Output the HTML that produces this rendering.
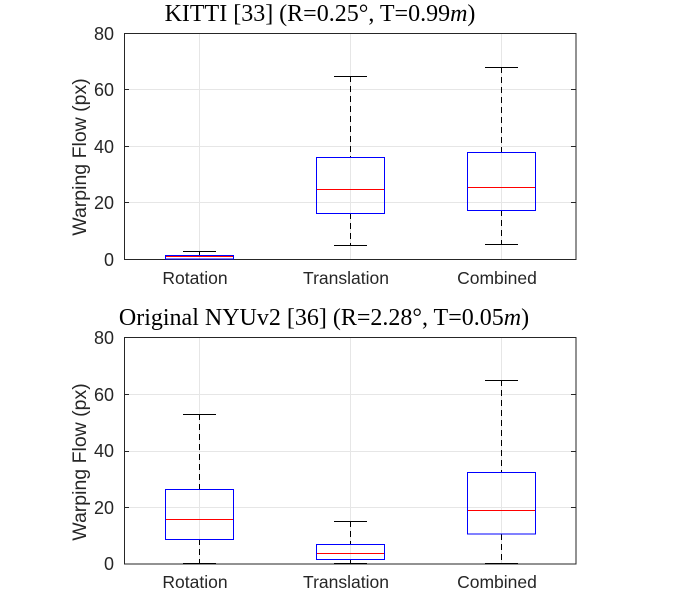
<!DOCTYPE html>
<html><head><meta charset="utf-8"><style>
html,body{margin:0;padding:0;background:#fff;}
svg text{font-family:"Liberation Sans",sans-serif;fill:#262626;}
.t{font-family:"Liberation Serif",serif;fill:#000;font-size:24px;}
</style></head><body>
<svg width="700" height="598" viewBox="0 0 700 598" xmlns="http://www.w3.org/2000/svg">
<rect width="700" height="598" fill="#fff"/>
<text class="t" x="320" y="21" text-anchor="middle">KITTI [33] (R=0.25°, T=0.99<tspan font-style="italic">m</tspan>)</text>
<g stroke="#e6e6e6" stroke-width="1">
<line x1="124" y1="89.5" x2="576" y2="89.5"/><line x1="124" y1="146.5" x2="576" y2="146.5"/><line x1="124" y1="202.5" x2="576" y2="202.5"/>
<line x1="199.5" y1="33" x2="199.5" y2="259"/><line x1="350.5" y1="33" x2="350.5" y2="259"/><line x1="501.5" y1="33" x2="501.5" y2="259"/>
</g>
<rect x="124.5" y="33.5" width="451.5" height="226" fill="none" stroke="#262626" stroke-width="1"/>
<g stroke="#262626"><line x1="124" y1="89.5" x2="129" y2="89.5"/><line x1="124" y1="146.5" x2="129" y2="146.5"/><line x1="124" y1="202.5" x2="129" y2="202.5"/>
<line x1="571" y1="89.5" x2="576" y2="89.5"/><line x1="571" y1="146.5" x2="576" y2="146.5"/><line x1="571" y1="202.5" x2="576" y2="202.5"/></g>
<g font-size="18" text-anchor="end"><text x="114" y="40">80</text><text x="114" y="96">60</text><text x="114" y="153">40</text><text x="114" y="209">20</text><text x="114" y="266">0</text></g>
<g font-size="17.5" text-anchor="middle"><text x="195" y="284">Rotation</text><text x="346" y="284">Translation</text><text x="497" y="284">Combined</text></g>
<text font-size="19.5" transform="translate(86,157) rotate(-90)" text-anchor="middle">Warping Flow (px)</text>
<line x1="199.5" y1="251" x2="199.5" y2="255" stroke="#000" stroke-dasharray="6,4"/>
<line x1="350.5" y1="76" x2="350.5" y2="157" stroke="#000" stroke-dasharray="6,4"/>
<line x1="350.5" y1="213" x2="350.5" y2="245" stroke="#000" stroke-dasharray="6,4"/>
<line x1="501.5" y1="67" x2="501.5" y2="152" stroke="#000" stroke-dasharray="6,4"/>
<line x1="501.5" y1="210" x2="501.5" y2="244" stroke="#000" stroke-dasharray="6,4"/>
<line x1="183" y1="251.5" x2="216" y2="251.5" stroke="#000"/>
<line x1="334" y1="76.5" x2="367" y2="76.5" stroke="#000"/>
<line x1="334" y1="245.5" x2="367" y2="245.5" stroke="#000"/>
<line x1="485" y1="67.5" x2="518" y2="67.5" stroke="#000"/>
<line x1="485" y1="244.5" x2="518" y2="244.5" stroke="#000"/>
<rect x="165.5" y="255.5" width="68" height="3.5" fill="none" stroke="#0000ff"/>
<rect x="316.5" y="157.5" width="68" height="56" fill="none" stroke="#0000ff"/>
<rect x="467.5" y="152.5" width="68" height="58" fill="none" stroke="#0000ff"/>
<line x1="166" y1="256.5" x2="233" y2="256.5" stroke="#ff0000"/>
<line x1="317" y1="189.5" x2="384" y2="189.5" stroke="#ff0000"/>
<line x1="468" y1="187.5" x2="535" y2="187.5" stroke="#ff0000"/>

<text class="t" x="324" y="325" text-anchor="middle">Original NYUv2 [36] (R=2.28°, T=0.05<tspan font-style="italic">m</tspan>)</text>
<g stroke="#e6e6e6" stroke-width="1">
<line x1="124" y1="394.5" x2="576" y2="394.5"/><line x1="124" y1="451.5" x2="576" y2="451.5"/><line x1="124" y1="507.5" x2="576" y2="507.5"/>
<line x1="199.5" y1="338" x2="199.5" y2="564"/><line x1="350.5" y1="338" x2="350.5" y2="564"/><line x1="501.5" y1="338" x2="501.5" y2="564"/>
</g>
<rect x="124.5" y="337.5" width="451.5" height="226.5" fill="none" stroke="#262626" stroke-width="1"/>
<g stroke="#262626"><line x1="124" y1="394.5" x2="129" y2="394.5"/><line x1="124" y1="451.5" x2="129" y2="451.5"/><line x1="124" y1="507.5" x2="129" y2="507.5"/>
<line x1="571" y1="394.5" x2="576" y2="394.5"/><line x1="571" y1="451.5" x2="576" y2="451.5"/><line x1="571" y1="507.5" x2="576" y2="507.5"/></g>
<g font-size="18" text-anchor="end"><text x="114" y="344">80</text><text x="114" y="401">60</text><text x="114" y="457">40</text><text x="114" y="514">20</text><text x="114" y="570">0</text></g>
<g font-size="17.5" text-anchor="middle"><text x="195" y="588">Rotation</text><text x="346" y="588">Translation</text><text x="497" y="588">Combined</text></g>
<text font-size="19.5" transform="translate(86,462) rotate(-90)" text-anchor="middle">Warping Flow (px)</text>
<line x1="199.5" y1="414" x2="199.5" y2="489" stroke="#000" stroke-dasharray="6,4"/>
<line x1="199.5" y1="539" x2="199.5" y2="563" stroke="#000" stroke-dasharray="6,4"/>
<line x1="350.5" y1="521" x2="350.5" y2="544" stroke="#000" stroke-dasharray="6,4"/>
<line x1="350.5" y1="559" x2="350.5" y2="564" stroke="#000" stroke-dasharray="6,4"/>
<line x1="501.5" y1="380" x2="501.5" y2="472" stroke="#000" stroke-dasharray="6,4"/>
<line x1="501.5" y1="534" x2="501.5" y2="563" stroke="#000" stroke-dasharray="6,4"/>
<line x1="183" y1="414.5" x2="216" y2="414.5" stroke="#000"/>
<line x1="183" y1="563.5" x2="216" y2="563.5" stroke="#000"/>
<line x1="334" y1="521.5" x2="367" y2="521.5" stroke="#000"/>
<line x1="334" y1="563.5" x2="367" y2="563.5" stroke="#000"/>
<line x1="485" y1="380.5" x2="518" y2="380.5" stroke="#000"/>
<line x1="485" y1="563.5" x2="518" y2="563.5" stroke="#000"/>
<rect x="165.5" y="489.5" width="68" height="50" fill="none" stroke="#0000ff"/>
<rect x="316.5" y="544.5" width="68" height="15" fill="none" stroke="#0000ff"/>
<rect x="467.5" y="472.5" width="68" height="61.5" fill="none" stroke="#0000ff"/>
<line x1="166" y1="519.5" x2="233" y2="519.5" stroke="#ff0000"/>
<line x1="317" y1="553.5" x2="384" y2="553.5" stroke="#ff0000"/>
<line x1="468" y1="510.5" x2="535" y2="510.5" stroke="#ff0000"/>
</svg>
</body></html>
